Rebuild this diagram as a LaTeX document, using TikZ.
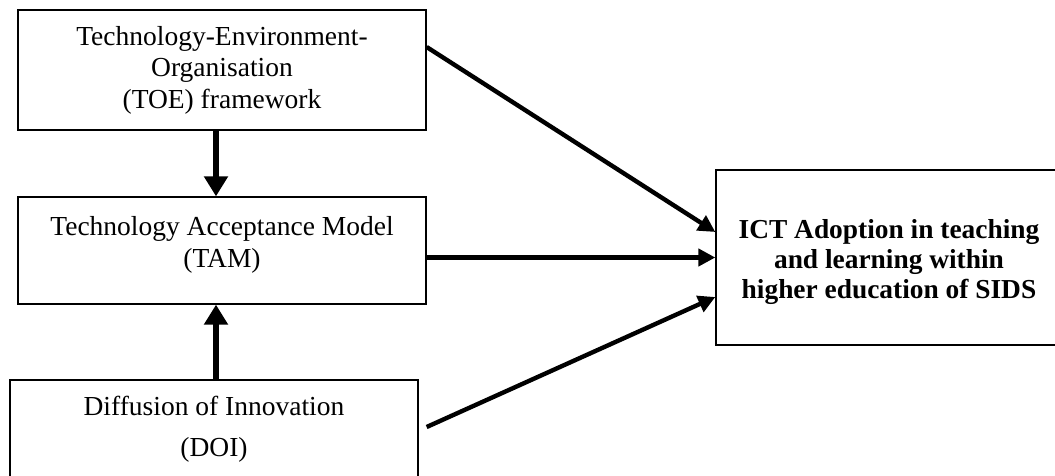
\documentclass[tikz,border=0pt]{standalone}
\usepackage{fontspec}
\setmainfont{Liberation Serif}
\usetikzlibrary{arrows.meta}
\tikzset{
frame/.style 2 args={draw, line width=1.3pt, minimum width=#1, minimum height=#2, inner sep=0pt},
caption/.style={align=center, font=\fontsize{27.5}{31.5}\selectfont},
boldcaption/.style={align=center, font=\fontsize{27.4}{30}\selectfont\bfseries},
bigarrow/.style={line width=6.5pt, -{Triangle[length=20pt, width=23pt]}},
smallarrow/.style={line width=4.4pt, -{Triangle[length=17pt, width=17pt]}},
}
\begin{document}
\begin{tikzpicture}[x=1pt, y=-1pt]
\clip[use as bounding box] (0,0) rectangle (1055,475);
%Place the boxes
\node[frame={408pt}{120pt}] (toe) at (222,70) {};
\node[frame={408pt}{107pt}] (tam) at (222,250.5) {};
\node[frame={408pt}{140pt}] (doi) at (214,450) {};
\node[frame={374pt}{175pt}] (ict) at (903,257.5) {};

%Place the texts
\node[caption] (toetext) at (222,70) {Technology-Environment-\\Organisation\\(TOE) framework};
\node[caption] (tamtext) at (222,245) {Technology Acceptance Model\\(TAM)};
\node[caption] (doitext) at (214,429) {Diffusion of Innovation\\[9pt](DOI)};
\node[boldcaption] (icttext) at (889,262) {ICT Adoption in teaching\\and learning within\\higher education of SIDS};

%
\draw[bigarrow] ([xshift=-6pt]toe.south) -- ([xshift=-6pt]tam.north);
\draw[bigarrow] ([xshift=2pt]doi.north) -- ([xshift=-6pt]tam.south);

%
\coordinate (toeout) at ([yshift=23pt]toe.east);
\coordinate (doiout) at ([xshift=8pt, yshift=23pt]doi.east);
\draw[smallarrow] (toeout) -- ([yshift=25.5pt]ict.west);
\draw[smallarrow] (tam.east |- ict.west) -- (ict.west);
\draw[smallarrow] (doiout) -- ([yshift=-39.5pt]ict.west);

\end{tikzpicture}
\end{document}
